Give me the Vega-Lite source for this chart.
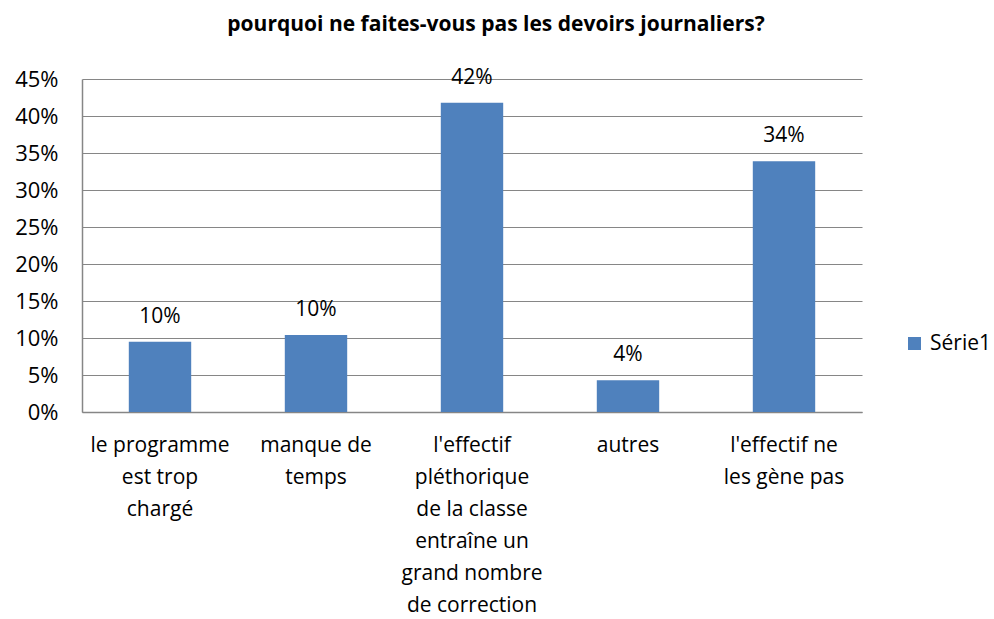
{
  "$schema": "https://vega.github.io/schema/vega-lite/v6.json",
  "width": 780,
  "height": 333,
  "autosize": "none",
  "padding": {"left": 82, "top": 79, "right": 132, "bottom": 207},
  "background": "white",
  "title": {
    "text": "pourquoi ne faites-vous pas les devoirs journaliers?",
    "font": "Open Sans",
    "fontSize": 21,
    "fontWeight": "bold",
    "color": "#000000",
    "anchor": "middle",
    "dx": 24,
    "offset": 32
  },
  "data": {
    "values": [
      {"cat": "le programme|est trop|chargé", "value": 0.095, "label": "10%", "serie": "Série1"},
      {"cat": "manque de|temps", "value": 0.104, "label": "10%", "serie": "Série1"},
      {"cat": "l'effectif|pléthorique|de la classe|entraîne un|grand nombre|de correction", "value": 0.418, "label": "42%", "serie": "Série1"},
      {"cat": "autres", "value": 0.043, "label": "4%", "serie": "Série1"},
      {"cat": "l'effectif ne|les gène pas", "value": 0.339, "label": "34%", "serie": "Série1"}
    ]
  },
  "config": {
    "view": {"stroke": null},
    "font": "Open Sans"
  },
  "encoding": {
    "x": {
      "field": "cat",
      "type": "nominal",
      "sort": null,
      "scale": {"paddingInner": 0.6, "paddingOuter": 0.3},
      "axis": {
        "title": null,
        "labelAngle": 0,
        "labelExpr": "split(datum.label, '|')",
        "labelFontSize": 21,
        "labelColor": "#000000",
        "labelFont": "Open Sans",
        "labelLineHeight": 32,
        "labelPadding": 22,
        "labelBaseline": "top",
        "labelOverlap": false,
        "ticks": false,
        "domainColor": "#868686",
        "domainWidth": 1.5,
        "labelLimit": 300
      }
    },
    "y": {
      "field": "value",
      "type": "quantitative",
      "scale": {"domain": [0, 0.45], "nice": false},
      "axis": {
        "title": null,
        "format": ".0%",
        "values": [0, 0.05, 0.1, 0.15, 0.2, 0.25, 0.3, 0.35, 0.4, 0.45],
        "labelFontSize": 22,
        "labelColor": "#000000",
        "labelFont": "Open Sans",
        "labelPadding": 24,
        "labelOverlap": false,
        "labelBound": false,
        "ticks": false,
        "grid": true,
        "gridColor": "#868686",
        "gridWidth": 1.2,
        "domainColor": "#868686",
        "domainWidth": 1.5
      }
    }
  },
  "layer": [
    {
      "mark": {"type": "bar", "color": "#4F81BD"},
      "encoding": {
        "color": {
          "field": "serie",
          "type": "nominal",
          "scale": {"range": ["#4F81BD"]},
          "legend": {
            "title": null,
            "orient": "none",
            "legendX": 822,
            "legendY": 254,
            "symbolType": "square",
            "symbolSize": 170,
            "symbolStrokeWidth": 0,
            "labelFontSize": 21,
            "labelFont": "Open Sans",
            "labelColor": "#000000",
            "labelOffset": 5
          }
        }
      }
    },
    {
      "mark": {"type": "text", "fontSize": 21, "font": "Open Sans", "color": "#000000", "baseline": "bottom", "dy": -15},
      "encoding": {
        "text": {"field": "label"}
      }
    }
  ]
}
